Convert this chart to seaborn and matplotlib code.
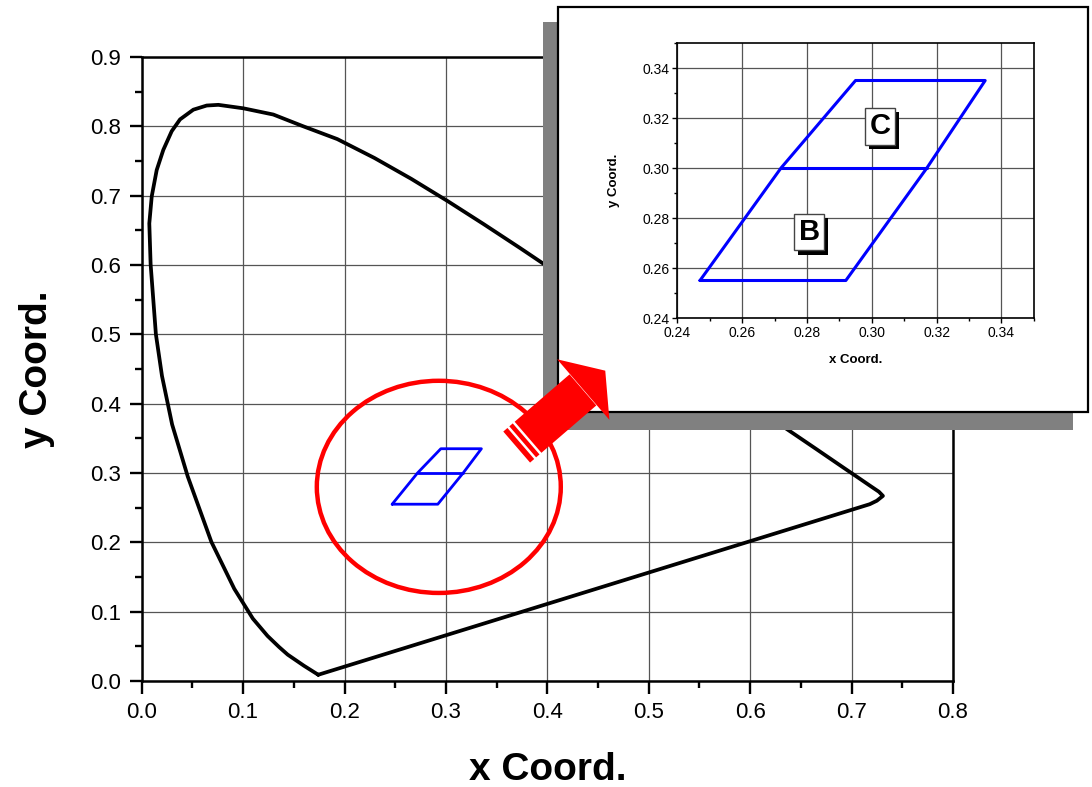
import numpy as np
import matplotlib
matplotlib.use("Agg")
import matplotlib.pyplot as plt
import matplotlib.patches as mpatches
import matplotlib.patheffects as pe
from matplotlib.ticker import MultipleLocator
from matplotlib.transforms import Affine2D
import seaborn as sns

sns.set_theme(style="white")
plt.rcParams["font.family"] = ["Liberation Sans", "DejaVu Sans"]
plt.rcParams.update({"text.color": "black", "axes.labelcolor": "black",
                     "xtick.color": "black", "ytick.color": "black"})

# spectral locus (closed with the purple line)
locus_x = [0.1741, 0.1600, 0.1440, 0.1355, 0.1241, 0.1096, 0.0913, 0.0687,
           0.0454, 0.0300, 0.0200, 0.0140, 0.0088, 0.0075, 0.0099, 0.0148,
           0.0213, 0.0296, 0.0378, 0.0509, 0.0641, 0.0756, 0.1002, 0.1298,
           0.1594, 0.1929, 0.2296, 0.2658, 0.3016, 0.3373, 0.3731, 0.4441,
           0.5125, 0.5752, 0.6270, 0.6658, 0.6915, 0.7079, 0.7190, 0.7270,
           0.7310, 0.7250, 0.7180, 0.1741]
locus_y = [0.0090, 0.0220, 0.0380, 0.0490, 0.0650, 0.0900, 0.1330, 0.2007,
           0.2950, 0.3700, 0.4400, 0.5000, 0.6010, 0.6600, 0.6990, 0.7370,
           0.7660, 0.7930, 0.8100, 0.8240, 0.8300, 0.8310, 0.8260, 0.8170,
           0.8000, 0.7816, 0.7543, 0.7243, 0.6923, 0.6589, 0.6245, 0.5547,
           0.4866, 0.4242, 0.3725, 0.3340, 0.3083, 0.2920, 0.2809, 0.2730,
           0.2670, 0.2600, 0.2550, 0.0090]

# B + C quadrangles
quad_x = [0.247, 0.292, 0.317, 0.335, 0.295, 0.272, 0.247]
quad_y = [0.255, 0.255, 0.300, 0.335, 0.335, 0.300, 0.255]
mid_x = [0.272, 0.317]
mid_y = [0.300, 0.300]

box_labels = ["B", "C"]
box_x = [0.2807, 0.3026]
box_y = [0.2744, 0.3167]

W, H = 1092, 787
fig = plt.figure(figsize=(W / 100, H / 100), dpi=100, facecolor="white")
pix = Affine2D().scale(1 / W, -1 / H).translate(0, 1) + fig.transFigure

# ---- main axes ----
ax = fig.add_axes([141.7 / W, 1 - 681 / H, 811.2 / W, 624 / H], zorder=0)
sns.lineplot(x=locus_x, y=locus_y, sort=False, estimator=None, color="black",
             lw=2.7, ax=ax)
sns.lineplot(x=quad_x, y=quad_y, sort=False, estimator=None, color="#0000ff",
             lw=2.0, ax=ax)
sns.lineplot(x=mid_x, y=mid_y, sort=False, estimator=None, color="#0000ff",
             lw=2.0, ax=ax)
ax.add_patch(mpatches.Ellipse((0.293, 0.280), 0.2406, 0.306, fill=False,
                              ec="red", lw=3.2))

ax.set_xlim(0, 0.8)
ax.set_ylim(0, 0.9)
ax.xaxis.set_major_locator(MultipleLocator(0.1))
ax.xaxis.set_minor_locator(MultipleLocator(0.05))
ax.yaxis.set_major_locator(MultipleLocator(0.1))
ax.yaxis.set_minor_locator(MultipleLocator(0.05))
ax.grid(True, which="major", color="#555555", lw=0.9)
for s in ax.spines.values():
    s.set_color("black")
    s.set_linewidth(1.8)
ax.tick_params(which="major", bottom=True, left=True, direction="out",
               length=9, width=1.7, labelsize=16, pad=6)
ax.tick_params(which="minor", bottom=True, left=True, direction="out",
               length=5, width=1.7)
ax.set_xlabel("x Coord.", fontsize=28, fontweight="bold", labelpad=21)
ax.set_ylabel("y Coord.", fontsize=28, fontweight="bold", labelpad=25)

# ---- inset frame with shadow ----
fig.add_artist(mpatches.Rectangle((543, 22), 530, 408, transform=pix,
                                  fc="#808080", ec="none", zorder=1))
fig.add_artist(mpatches.Rectangle((558, 7), 530, 405, transform=pix,
                                  fc="white", ec="black", lw=1.6, zorder=1.5))

axi = fig.add_axes([677.3 / W, 1 - 318 / H, 356.5 / W, 275 / H], zorder=2)
sns.lineplot(x=quad_x, y=quad_y, sort=False, estimator=None, color="#0000ff",
             lw=2.2, ax=axi)
sns.lineplot(x=mid_x, y=mid_y, sort=False, estimator=None, color="#0000ff",
             lw=2.2, ax=axi)
axi.set_xlim(0.24, 0.35)
axi.set_ylim(0.24, 0.35)
axi.xaxis.set_major_locator(MultipleLocator(0.02))
axi.xaxis.set_minor_locator(MultipleLocator(0.01))
axi.yaxis.set_major_locator(MultipleLocator(0.02))
axi.yaxis.set_minor_locator(MultipleLocator(0.01))
axi.grid(True, which="major", color="#555555", lw=0.9)
for s in axi.spines.values():
    s.set_color("black")
    s.set_linewidth(1.2)
axi.tick_params(which="major", bottom=True, left=True, direction="out",
                length=3.5, width=1.0, labelsize=10, pad=2)
axi.tick_params(which="minor", bottom=True, left=True, direction="out",
                length=2, width=1.0)
axi.set_xlabel("x Coord.", fontsize=9.5, fontweight="bold", labelpad=10)
axi.set_ylabel("y Coord.", fontsize=9.5, fontweight="bold", labelpad=16)

for lab, bx, by in zip(box_labels, box_x, box_y):
    t = axi.text(bx, by, lab, fontsize=21, fontweight="bold", ha="center",
                 va="center", zorder=5,
                 bbox=dict(boxstyle="square,pad=0.15", fc="white",
                           ec="#444444", lw=1))
    t.get_bbox_patch().set_path_effects(
        [pe.SimplePatchShadow(offset=(3, -3), shadow_rgbFace="black", alpha=1),
         pe.Normal()])

# ---- red arrow from circle to inset ----
d = np.array([0.757, -0.653])
d = d / np.linalg.norm(d)
n = np.array([-d[1], d[0]])
base = np.array([583.3, 389.6])
tip = base + 29 * d
head = [base + 40 * n, tip, base - 40 * n]
fig.add_artist(mpatches.Polygon(head, closed=True, transform=pix, fc="red",
                                ec="none", zorder=3))


def band(a, b, hw=20.5):
    p0 = base - a * d
    p1 = base - b * d
    return [p0 + hw * n, p0 - hw * n, p1 - hw * n, p1 + hw * n]


for a, b in [(0.5, 73), (75.5, 80), (82.5, 88)]:
    fig.add_artist(mpatches.Polygon(band(a, b), closed=True, transform=pix,
                                    fc="red", ec="none", zorder=3))

fig.savefig("out.png", dpi=100, facecolor="white")
